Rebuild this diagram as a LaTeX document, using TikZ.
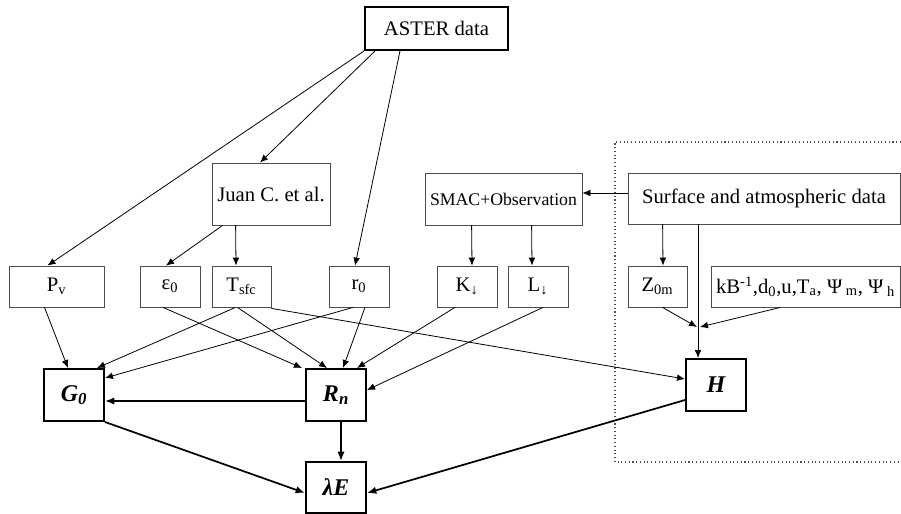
\documentclass[tikz,border=0pt]{standalone}
\usepackage{fontspec}
\setmainfont{Liberation Serif}
\usetikzlibrary{arrows.meta,calc}

\begin{document}
\begin{tikzpicture}[x=0.75pt,y=-0.75pt]
            \tikzstyle{every node}+=[inner sep=0pt]
            \tikzstyle{box}=[draw=black!70, line width=0.6pt, minimum height=30.75pt, font=\fontsize{15.5}{18}\selectfont]
            \tikzstyle{bold box}=[draw=black, line width=1.5pt, minimum width=45pt, minimum height=39pt, font=\fontsize{18}{20}\selectfont\bfseries\itshape]
            \tikzstyle{arr}=[-{Latex[length=6pt,width=5pt]}, line width=0.6pt]
            \tikzstyle{thick arr}=[-{Latex[length=7pt,width=5.5pt]}, line width=1.3pt]
            \useasboundingbox (0,0) rectangle (901,514);
            \draw [black!70, dotted, line width=0.8pt] (901,142) -| (615,462) -- (901,462);
            \node [box, draw=black, line width=1.5pt, minimum width=107.25pt, minimum height=32.25pt] (aster) at (436.5,28.5) {ASTER data};
            \node [box, minimum width=88.5pt, minimum height=46.5pt] (juan) at (271,194) {Juan C. et al.};
            \node [box, minimum width=117.75pt, minimum height=39pt, font=\fontsize{13.3}{16}\selectfont] (smac) at (503.5,199) {SMAC+Observation};
            \node [box, minimum width=204pt, minimum height=38.25pt] (surf) at (764,198.5) {Surface and atmospheric data};
            \node [box, minimum width=71.25pt] (pv) at (56.5,286.5) {P\textsubscript{v}};
            \node [box, minimum width=45pt] (eps) at (170,286.5) {ε\textsubscript{0}};
            \node [box, minimum width=44.25pt] (tsfc) at (241.5,286.5) {T\textsubscript{sfc}};
            \node [box, minimum width=45pt] (rz) at (359,286.5) {r\textsubscript{0}};
            \node [box, minimum width=45pt] (kd) at (467,286.5) {K\textsubscript{↓}};
            \node [box, minimum width=45pt] (ld) at (538,286.5) {L\textsubscript{↓}};
            \node [box, minimum width=44.25pt] (zom) at (657.5,286.5) {Z\textsubscript{0m}};
            \node [box, minimum width=141.75pt] (kb) at (805.5,286.5) {kB\textsuperscript{-1},d\textsubscript{0},u,T\textsubscript{a}, Ψ\textsubscript{ m}, Ψ\textsubscript{ h}};
            \node [bold box] (g0) at (74,395) {G\textsubscript{0}};
            \node [bold box] (rn) at (336,395) {R\textsubscript{n}};
            \node [bold box, minimum height=38.25pt] (le) at (336,487.5) {λE};
            \node [bold box] (h) at (716,385) {H};
            \coordinate (hj) at (698,327);
            \draw [arr] (aster.south west) -- ($(pv.north)+(-9,0)$);
            \draw [arr] ($(aster.south west)+(11,0)$) -- ($(juan.north)+(-11,0)$);
            \draw [arr] ($(aster.south west)+(36,0)$) -- ($(rz.north)+(-4,0)$);
            \draw [arr] ($(juan.south west)+(11,0)$) -- ($(eps.north)+(-4,0)$);
            \draw [arr] ($(juan.south west)+(24,0)$) -- ($(tsfc.north)+(-5.5,0)$);
            \draw [arr] ($(smac.south west)+(47,0)$) -- ($(kd.north)+(5,0)$);
            \draw [arr] ($(smac.south west)+(107,0)$) -- ($(ld.north)+(-6,0)$);
            \draw [arr] ($(surf.west)+(0,-5.5)$) -- ($(smac.east)+(0,-6)$);
            \draw [arr] ($(surf.south west)+(35,0)$) -- ($(zom.north)+(5.5,0)$);
            \draw [arr] (surf.south -| hj) -- (h.north -| hj);
            \draw [arr] ($(zom.south)+(5,0)$) -- ($(hj)+(-1,0)$);
            \draw [arr] ($(kb.south)+(-25,0)$) -- ($(hj)+(2,0)$);
            \draw [arr] ($(pv.south)+(-12,0)$) -- ($(g0.north)+(-6,0)$);
            \draw [arr] ($(tsfc.south)+(-6,0)$) -- ($(g0.north)+(23,0)$);
            \draw [arr] ($(rz.south)+(-6,0)$) -- ($(g0.east)+(0,-17)$);
            \draw [arr] ($(eps.south)+(-7,0)$) -- ($(rn.north west)+(-3,0)$);
            \draw [arr] ($(tsfc.south)+(-4,0)$) -- ($(rn.north)+(-9,0)$);
            \draw [arr] ($(rz.south)+(6,0)$) -- ($(rn.north)+(7,0)$);
            \draw [arr] ($(kd.south)+(-12,0)$) -- ($(rn.north)+(21,0)$);
            \draw [arr] ($(ld.south)+(5,0)$) -- ($(rn.east)+(0,-5)$);
            \draw [arr] ($(tsfc.south east)+(0,1)$) -- ($(h.west)+(0,-6)$);
            \draw [thick arr] ($(rn.west)+(0,6)$) -- ($(g0.east)+(0,6)$);
            \draw [thick arr] ($(rn.south)+(5,0)$) -- ($(le.north)+(5,0)$);
            \draw [thick arr] (g0.south east) -- ($(le.west)+(0,5.5)$);
            \draw [thick arr] ($(h.west)+(0,15)$) -- ($(le.east)+(0,5.5)$);
        \end{tikzpicture}
\end{document}
